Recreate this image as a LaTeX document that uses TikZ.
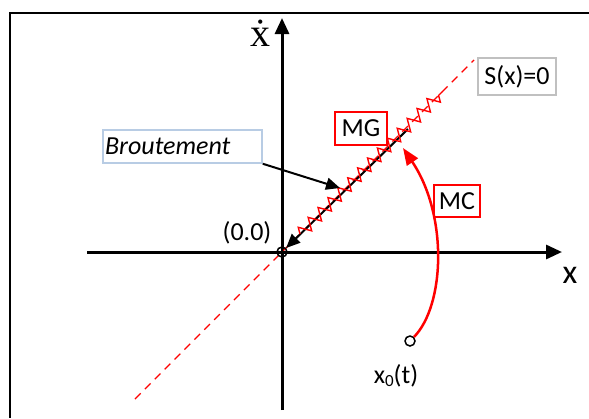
\documentclass[tikz,border=0pt]{standalone}
\usepackage{fontspec}
\setmainfont{Carlito}
\newfontfamily\tms{Liberation Serif}
\usetikzlibrary{arrows.meta,decorations.pathmorphing}
\definecolor{boxblue}{HTML}{B8CCE4}
\definecolor{boxgray}{HTML}{C0C0C0}
\begin{document}
\begin{tikzpicture}[x=1pt,y=-1pt,
  axis/.style={line width=3pt,-{Triangle[length=16pt,width=14pt]}},
  lbl/.style={font=\fontsize{26}{30}\selectfont,inner sep=2pt},
  redbox/.style={lbl,draw=red,line width=1.5pt},
  ptc/.style={circle,draw,line width=1.5pt,minimum size=10pt,inner sep=0pt},
  blk/.style={line width=2pt,-{Triangle[length=14pt,width=12pt]}}]
\useasboundingbox (0,0) rectangle (589,418);
% frame
\draw[line width=2pt] (589,12.5) -- (9.5,12.5) -- (9.5,418);
% axes
\coordinate (xl) at (87,252);
\coordinate (xr) at (562,252);
\coordinate (yb) at (282,410);
\coordinate (yt) at (282,18);
\draw[axis] (xl) -- (xr);
\draw[axis] (yb) -- (yt);
% sliding line
\coordinate (d1) at (135,399);
\coordinate (d2) at (474,60);
\draw[red,line width=1.4pt,dash pattern=on 8pt off 6pt] (d1) -- (d2);
% points
\node[ptc] (O) at (282,252) {};
\node[ptc] (x0) at (410,341) {};
% black arrow along the line
\coordinate (b1) at (408,129);
\draw[blk] (b1) -- (O);
% chattering
\coordinate (z1) at (300,234);
\coordinate (z2) at (442,92);
\draw[red,line width=1.4pt,decorate,decoration={zigzag,segment length=14pt,amplitude=6pt}] (z1) -- (z2);
% MC curve
\draw[red,line width=2.5pt,-{Triangle[length=17pt,width=13pt]}] (x0.north east) .. controls (445,305) and (448,215) .. (403,148);
% boxes
\node[lbl,draw=boxblue,line width=1.5pt,text width=155pt,align=left,minimum height=33pt,inner xsep=2pt] (br) at (182.5,146.5) {\itshape Broutement};
\coordinate (bt) at (340,188);
\draw[blk] (br.south east) -- (bt);
\node[lbl,draw=boxgray,line width=2pt,minimum width=78pt,minimum height=37pt] (s) at (517,76.5) {S(x)=0};
\node[redbox,minimum width=52pt,minimum height=33pt] (mg) at (361,128.5) {MG};
\node[redbox,minimum width=46pt,minimum height=32pt] (mc) at (457,201) {MC};
% labels
\node[lbl] (o) at (247,233) {(0.0)};
\node[lbl] (x0l) at (396,376) {x\raisebox{-3pt}{\fontsize{17}{17}\selectfont 0}(t)};
\node[font=\fontsize{34}{34}\selectfont,inner sep=0pt] (xlab) at (570,275) {x};
\node[font=\tms\fontsize{40}{40}\selectfont,inner sep=0pt] (xdot) at (260,33) {\.{x}};
\end{tikzpicture}
\end{document}
